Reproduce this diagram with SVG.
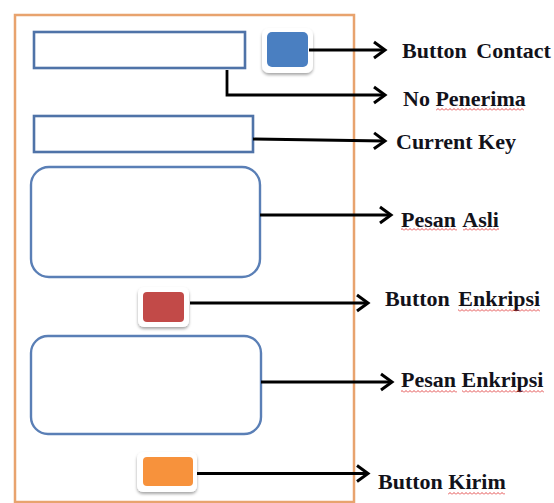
<svg xmlns="http://www.w3.org/2000/svg" width="554" height="503" viewBox="0 0 554 503">
  <style>
    .frame { fill: none; stroke: #e8a36e; stroke-width: 2.5; }
    .field { fill: #ffffff; stroke: #4f73a8; stroke-width: 2.6; }
    .area { fill: #ffffff; stroke: #5a7fb6; stroke-width: 2.4; }
    .btn-rim { fill: #ffffff; filter: url(#soft); }
    .wire { fill: none; stroke: #000000; stroke-width: 2.8; }
    .label { font-family: "Liberation Serif", "Times New Roman", serif; font-weight: bold; font-size: 22px; fill: #12121a; }
    .squiggle { fill: url(#wave); }
  </style>
  <defs>
    <filter id="soft" x="-30%" y="-30%" width="160%" height="170%">
      <feDropShadow dx="0" dy="2" stdDeviation="1.6" flood-color="#000000" flood-opacity="0.35"/>
    </filter>
    <marker id="head" markerUnits="userSpaceOnUse" markerWidth="16" markerHeight="20" refX="11" refY="0" viewBox="-2 -10 16 20" orient="auto">
      <path d="M0,-8 L11,0 L0,8" fill="none" stroke="#000000" stroke-width="3" stroke-linejoin="miter"/>
    </marker>
    <pattern id="wave" patternUnits="userSpaceOnUse" width="4" height="3">
      <path d="M0,2.5 L2,0.5 L4,2.5" fill="none" stroke="#e03a3a" stroke-width="0.9"/>
    </pattern>
  </defs>

  <!-- phone screen outline -->
  <rect class="frame" x="15" y="15" width="339" height="487"/>

  <g id="field-no-penerima">
    <rect class="field" x="34" y="32" width="211" height="36"/>
  </g>
  <g id="btn-contact">
    <rect class="btn-rim" x="262" y="28" width="51" height="45" rx="7"/>
    <rect x="267" y="32" width="41" height="35" rx="5" fill="#4a7fc1"/>
  </g>
  <g id="field-current-key">
    <rect class="field" x="34" y="116" width="219" height="36"/>
  </g>
  <g id="area-pesan-asli">
    <rect class="area" x="31" y="167" width="229" height="110" rx="18"/>
  </g>
  <g id="btn-enkripsi">
    <rect class="btn-rim" x="138" y="287" width="51" height="40" rx="6"/>
    <rect x="143" y="292" width="41" height="30" rx="4" fill="#c24a48"/>
  </g>
  <g id="area-pesan-enkripsi">
    <rect class="area" x="31" y="336" width="230" height="98" rx="17"/>
  </g>
  <g id="btn-kirim">
    <rect class="btn-rim" x="137" y="452" width="60" height="40" rx="6"/>
    <rect x="143" y="457" width="50" height="29" rx="4" fill="#f7923c"/>
  </g>

  <!-- callout arrows -->
  <g id="connectors">
    <path class="wire" d="M309,50 H385" marker-end="url(#head)"/>
    <path class="wire" d="M227,70 V95 H385" marker-end="url(#head)"/>
    <path class="wire" d="M253,139 L385,141" marker-end="url(#head)"/>
    <path class="wire" d="M260,215 H391" marker-end="url(#head)"/>
    <path class="wire" d="M190,303 H368" marker-end="url(#head)"/>
    <path class="wire" d="M261,382 H392" marker-end="url(#head)"/>
    <path class="wire" d="M197,473.5 H368" marker-end="url(#head)"/>
  </g>

  <!-- labels -->
  <g id="labels">
    <text class="label" x="402" y="58" word-spacing="4">Button Contact</text>
    <text class="label" x="403" y="106">No Penerima</text>
    <text class="label" x="396" y="149">Current Key</text>
    <text class="label" x="401" y="227" word-spacing="2">Pesan Asli</text>
    <text class="label" x="385" y="306" word-spacing="3">Button Enkripsi</text>
    <text class="label" x="401" y="387">Pesan Enkripsi</text>
    <text class="label" x="378" y="489">Button Kirim</text>
  </g>

  <!-- spell-check underlines -->
  <g id="squiggles">
    <rect class="squiggle" x="436" y="108" width="88" height="3"/>
    <rect class="squiggle" x="401" y="228" width="56" height="3"/>
    <rect class="squiggle" x="463" y="228" width="36" height="3"/>
    <rect class="squiggle" x="458" y="309" width="82" height="3"/>
    <rect class="squiggle" x="401" y="390" width="56" height="3"/>
    <rect class="squiggle" x="462" y="390" width="82" height="3"/>
    <rect class="squiggle" x="448" y="492" width="57" height="3"/>
  </g>
</svg>
